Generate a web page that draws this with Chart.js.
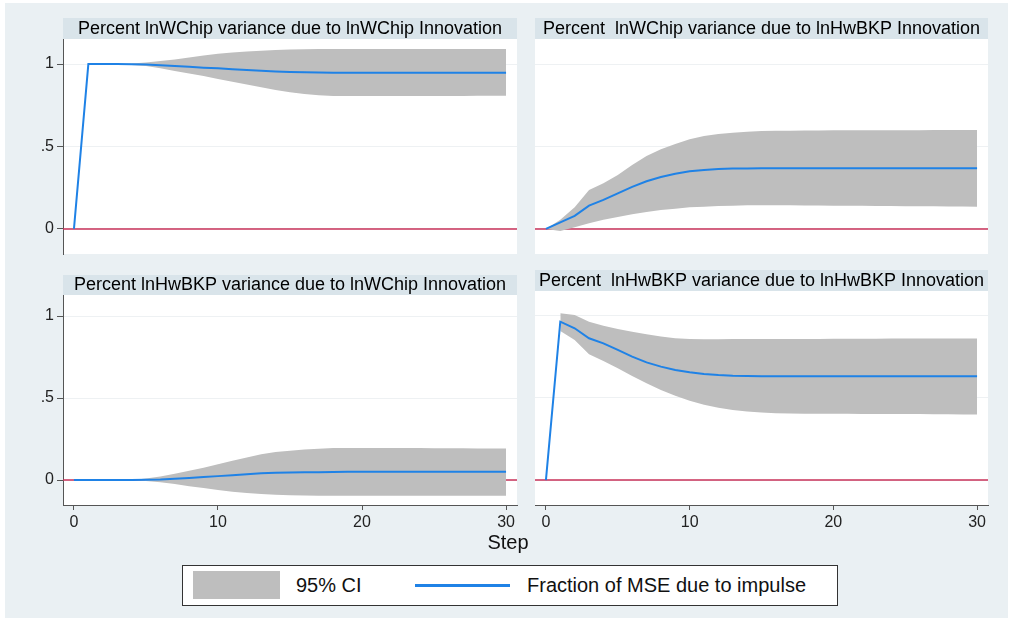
<!DOCTYPE html>
<html>
<head>
<meta charset="utf-8">
<script src="https://cdn.jsdelivr.net/npm/chart.js@4.4.1/dist/chart.umd.min.js"></script>
<style>
  html, body { margin: 0; padding: 0; background: #ffffff; }
  body { width: 1012px; height: 622px; position: relative; overflow: hidden;
         font-family: "Liberation Sans", Arial, sans-serif; }
  #frame { position: absolute; left: 5px; top: 3px; width: 1003px; height: 615px; background: #eaf0f3; }
  canvas { position: absolute; }
  #stepLabel { position: absolute; left: 458px; top: 532px; width: 100px; text-align: center;
               font-size: 20px; line-height: 20px; color: #111; }
  #legend { position: absolute; left: 182px; top: 565px; width: 656px; height: 41px;
            box-sizing: border-box; border: 1.5px solid #333; background: #fff; }
  #legend .swatch { position: absolute; left: 10px; top: 5px; width: 87px; height: 28px; background: #bebebe; }
  #legend .stroke { position: absolute; left: 232px; top: 18px; width: 95px; height: 2.5px; background: #1f82e6; }
  #legend .txt { position: absolute; top: 0; height: 38px; line-height: 38px; font-size: 20px; color: #111; }
</style>
</head>
<body>
<div id="frame"></div>
<canvas id="pTL" width="515" height="257" style="left:5px;top:3px;width:515px;height:257px"></canvas>
<canvas id="pTR" width="470" height="257" style="left:530px;top:3px;width:470px;height:257px"></canvas>
<canvas id="pBL" width="515" height="278" style="left:5px;top:262px;width:515px;height:278px"></canvas>
<canvas id="pBR" width="470" height="278" style="left:530px;top:262px;width:470px;height:278px"></canvas>
<div id="stepLabel">Step</div>
<div id="legend">
  <div class="swatch"></div>
  <div class="txt" style="left:113px">95% CI</div>
  <div class="stroke"></div>
  <div class="txt" style="left:344px">Fraction of MSE due to impulse</div>
</div>
<script>
// Forecast-error variance decomposition, steps 0..30
const steps = [0,1,2,3,4,5,6,7,8,9,10,11,12,13,14,15,16,17,18,19,20,21,22,23,24,25,26,27,28,29,30];

const yTickValues = [0, 0.5, 1];
const yTickLabels = ['0', '.5', '1'];
const xTickValues = [0, 10, 20, 30];
const xTickLabels = ['0', '10', '20', '30'];

const panelTitles = [
  'Percent lnWChip variance due to lnWChip Innovation',
  'Percent  lnWChip variance due to lnHwBKP Innovation',
  'Percent lnHwBKP variance due to lnWChip Innovation',
  'Percent  lnHwBKP variance due to lnHwBKP Innovation'
];

// lnWChip variance due to lnWChip innovation
const wcWc   = [0,1,1,1,.999,.997,.993,.988,.983,.978,.974,.969,.964,.959,.955,.952,.950,.949,.948,.948,.948,.948,.948,.948,.948,.947,.947,.947,.947,.947,.947];
const wcWcHi = [null,1,1,1.001,1.004,1.010,1.018,1.028,1.040,1.052,1.062,1.070,1.076,1.081,1.085,1.088,1.090,1.091,1.092,1.092,1.092,1.092,1.092,1.092,1.092,1.092,1.092,1.092,1.092,1.092,1.092];
const wcWcLo = [null,1,1,.999,.995,.988,.975,.958,.943,.927,.910,.893,.876,.859,.843,.829,.818,.811,.807,.806,.806,.806,.806,.806,.807,.807,.807,.807,.808,.808,.808];

// lnWChip variance due to lnHwBKP innovation
const wcHw   = [0,.040,.079,.141,.176,.216,.255,.289,.315,.335,.350,.358,.364,.366,.367,.368,.368,.368,.368,.368,.368,.368,.368,.368,.368,.368,.368,.368,.368,.368,.368];
const wcHwHi = [0,.055,.131,.236,.277,.327,.388,.442,.483,.515,.544,.564,.576,.584,.590,.594,.595,.596,.597,.597,.598,.598,.598,.599,.599,.599,.599,.600,.600,.600,.600];
const wcHwLo = [0,-.012,.010,.034,.055,.073,.089,.103,.115,.123,.131,.135,.139,.141,.143,.144,.143,.143,.142,.142,.141,.140,.140,.139,.139,.138,.137,.137,.136,.136,.135];

// lnHwBKP variance due to lnWChip innovation
const hwWc   = [0,0,0,0,0,.002,.004,.008,.013,.018,.024,.030,.036,.041,.044,.046,.047,.048,.049,.050,.050,.050,.050,.050,.050,.050,.050,.050,.050,.050,.050];
const hwWcHi = [0,0,0,0,.001,.010,.022,.039,.057,.075,.096,.118,.138,.157,.171,.179,.187,.191,.195,.195,.195,.195,.195,.195,.195,.194,.194,.194,.193,.193,.193];
const hwWcLo = [0,0,0,0,-.001,-.006,-.014,-.024,-.037,-.049,-.061,-.071,-.079,-.085,-.089,-.092,-.094,-.095,-.096,-.096,-.096,-.096,-.096,-.096,-.096,-.095,-.095,-.095,-.095,-.095,-.095];

// lnHwBKP variance due to lnHwBKP innovation
const hwHw   = [0,.965,.925,.864,.833,.793,.752,.717,.691,.671,.657,.646,.640,.636,.634,.633,.633,.633,.633,.633,.633,.633,.633,.633,.633,.633,.633,.633,.633,.633,.633];
const hwHwHi = [null,1.016,1.006,.965,.941,.921,.904,.888,.874,.864,.860,.858,.858,.859,.859,.860,.860,.860,.860,.860,.861,.861,.861,.861,.862,.862,.862,.862,.863,.863,.863];
const hwHwLo = [null,.909,.854,.766,.726,.681,.634,.590,.549,.514,.484,.459,.441,.427,.417,.411,.407,.405,.404,.404,.404,.404,.403,.403,.403,.402,.402,.401,.401,.400,.400];

const FONT = '"Liberation Sans", Arial, Helvetica, sans-serif';
const CI_GRAY = '#bebebe';
const LINE_BLUE = '#1f82e6';
const ZERO_RED = '#c8325a';
const AXIS_GRAY = '#555555';

function points(values) {
  return steps.map((s, i) => ({ x: s, y: values[i] }));
}

// White plot region, shaded title band, and the reference line at zero
const panelDecor = {
  id: 'panelDecor',
  beforeDraw(chart, args, o) {
    const { ctx, chartArea: a } = chart;
    ctx.save();
    ctx.fillStyle = '#ffffff';
    ctx.fillRect(a.left, a.top, a.right - a.left, a.bottom - a.top);
    ctx.fillStyle = '#d9e4ea';
    ctx.fillRect(a.left, a.top - o.bandHeight, a.right - a.left, o.bandHeight);
    ctx.fillStyle = '#000000';
    ctx.font = '18px ' + FONT;
    ctx.textAlign = 'center';
    ctx.textBaseline = 'middle';
    ctx.fillText(o.text, (a.left + a.right) / 2, a.top - o.bandHeight / 2 + 0.5);
    ctx.restore();
  },
  beforeDatasetsDraw(chart) {
    const { ctx, chartArea: a } = chart;
    const y0 = chart.scales.y.getPixelForValue(0);
    ctx.save();
    ctx.strokeStyle = ZERO_RED;
    ctx.lineWidth = 1.5;
    ctx.beginPath();
    ctx.moveTo(a.left, y0);
    ctx.lineTo(a.right, y0);
    ctx.stroke();
    ctx.restore();
  }
};

function makePanel(id, cfg) {
  const yScale = {
    type: 'linear',
    min: -0.152,
    max: cfg.yMax,
    afterBuildTicks: s => { s.ticks = yTickValues.map(v => ({ value: v })); },
    afterFit: s => {
      s.width = cfg.showY ? 58 : 0;
      s.paddingTop = 0;
      s.paddingBottom = 0;
    },
    grid: {
      color: '#eef1f3',
      lineWidth: 1,
      drawTicks: cfg.showY,
      tickLength: 6,
      tickColor: AXIS_GRAY,
      tickWidth: 1
    },
    border: { display: cfg.showY, color: AXIS_GRAY, width: 1 },
    ticks: {
      display: cfg.showY,
      padding: 3,
      color: '#222',
      font: { family: FONT, size: 16 },
      callback: v => yTickLabels[yTickValues.indexOf(v)]
    }
  };
  const xScale = {
    type: 'linear',
    min: -0.76,
    max: 30.76,
    display: cfg.showX,
    afterBuildTicks: s => { s.ticks = xTickValues.map(v => ({ value: v })); },
    afterFit: s => {
      if (cfg.showX) s.height = 30;
      s.paddingLeft = 0;
      s.paddingRight = 0;
    },
    grid: {
      drawOnChartArea: false,
      drawTicks: true,
      tickLength: 5,
      tickColor: AXIS_GRAY,
      tickWidth: 1
    },
    border: { display: true, color: AXIS_GRAY, width: 1 },
    ticks: {
      padding: 3,
      maxRotation: 0,
      color: '#222',
      font: { family: FONT, size: 16 },
      callback: v => xTickLabels[xTickValues.indexOf(v)]
    }
  };

  return new Chart(document.getElementById(id), {
    type: 'line',
    data: {
      datasets: [
        { label: 'Fraction of MSE due to impulse', data: points(cfg.line),
          borderColor: LINE_BLUE, borderWidth: 2, pointRadius: 0, fill: false, tension: 0 },
        { label: '95% CI upper', data: points(cfg.hi),
          borderWidth: 0, borderColor: 'rgba(0,0,0,0)', pointRadius: 0,
          backgroundColor: CI_GRAY, fill: '+1', tension: 0 },
        { label: '95% CI lower', data: points(cfg.lo),
          borderWidth: 0, borderColor: 'rgba(0,0,0,0)', pointRadius: 0, fill: false, tension: 0 }
      ]
    },
    options: {
      responsive: false,
      devicePixelRatio: 1,
      animation: false,
      events: [],
      layout: { padding: cfg.padding },
      scales: { x: xScale, y: yScale },
      plugins: {
        legend: { display: false },
        tooltip: { enabled: false },
        title: { display: false },
        panelDecor: { text: cfg.title, bandHeight: cfg.bandHeight }
      }
    },
    plugins: [panelDecor]
  });
}

makePanel('pTL', {
  title: panelTitles[0], line: wcWc, hi: wcWcHi, lo: wcWcLo,
  showY: true, showX: false, yMax: 1.152, bandHeight: 21,
  padding: { left: 0, top: 36, right: 3, bottom: 6 }
});
makePanel('pTR', {
  title: panelTitles[1], line: wcHw, hi: wcHwHi, lo: wcHwLo,
  showY: false, showX: false, yMax: 1.152, bandHeight: 21,
  padding: { left: 5, top: 36, right: 12, bottom: 6 }
});
makePanel('pBL', {
  title: panelTitles[2], line: hwWc, hi: hwWcHi, lo: hwWcLo,
  showY: true, showX: true, yMax: 1.128, bandHeight: 20,
  padding: { left: 0, top: 33, right: 3, bottom: 5 }
});
makePanel('pBR', {
  title: panelTitles[3], line: hwHw, hi: hwHwHi, lo: hwHwLo,
  showY: false, showX: true, yMax: 1.152, bandHeight: 21,
  padding: { left: 5, top: 29, right: 12, bottom: 5 }
});
</script>
</body>
</html>
